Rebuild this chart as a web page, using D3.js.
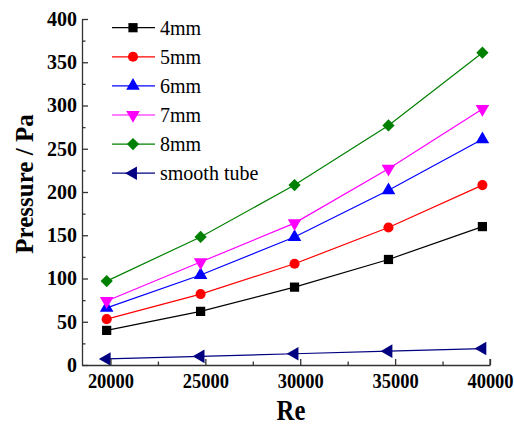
<!DOCTYPE html>
<html>
<head>
<meta charset="UTF-8">
<title>Pressure vs Re</title>
<style>
    body { margin: 0; padding: 0; background: #fff; }
    svg { display: block; }
</style>
</head>
<body>
<svg width="514" height="426"></svg>
<script src="https://d3js.org/d3.v7.min.js"></script>
<script>
    // data
    var reValues = [19800, 24750, 29700, 34650, 39600];
    var names = ["4mm", "5mm", "6mm", "7mm", "8mm", "smooth tube"];
    var p4 = [40, 62, 90, 122, 160];
    var p5 = [53, 82, 117, 159, 208];
    var p6 = [66, 104, 148, 202, 261];
    var p7 = [74, 119, 164, 227, 296];
    var p8 = [97, 148, 208, 277, 361];
    var pSmooth = [7, 10, 13, 16, 19];
    var xTicks = [20000, 25000, 30000, 35000, 40000];
    var yTicks = [0, 50, 100, 150, 200, 250, 300, 350, 400];

    var colors = ["#000000", "#ff0000", "#0000ff", "#ff00ff", "#008000", "#000080"];
    var symbols = ["square", "circle", "up", "down", "diamond", "left"];
    var serif = "'Liberation Serif'";

    var series = [p4, p5, p6, p7, p8, pSmooth].map(function (v, i) {
        return { name: names[i], values: v, color: colors[i], symbol: symbols[i] };
    });

    var svg = d3.select("svg");
    var x = d3.scaleLinear().domain([18500, 40000]).range([82, 490]);
    var y = d3.scaleLinear().domain([0, 400]).range([365, 19]);

    // symbol path + rotation for each marker kind
    var markerDefs = {
        square:  { type: d3.symbolSquare, size: 85, rot: 0 },
        circle:  { type: d3.symbolCircle, size: 80, rot: 0 },
        up:      { type: d3.symbolTriangle, size: 80, rot: 0 },
        down:    { type: d3.symbolTriangle, size: 80, rot: 180 },
        diamond: { type: d3.symbolSquare, size: 75, rot: 45 },
        left:    { type: d3.symbolTriangle, size: 80, rot: -90 }
    };

    function marker(sel, s, px, py) {
        var m = markerDefs[s.symbol];
        sel.attr("d", d3.symbol().type(m.type).size(m.size)())
            .attr("fill", s.color)
            .attr("stroke", "none")
            .attr("transform", function (d, i) {
                return "translate(" + px(d, i) + "," + py(d, i) + ") rotate(" + m.rot + ")";
            });
    }

    // lines + markers
    var line = d3.line()
        .x(function (d, i) { return x(reValues[i]); })
        .y(function (d) { return y(d); });

    var g = svg.append("g");
    series.forEach(function (s) {
        g.append("path")
            .attr("d", line(s.values))
            .attr("fill", "none")
            .attr("stroke", s.color)
            .attr("stroke-width", 1.2);
        g.selectAll(null)
            .data(s.values)
            .enter().append("path")
            .call(marker, s, function (d, i) { return x(reValues[i]); }, function (d) { return y(d); });
    });

    // axes, ticks inward
    var axisColor = "#333";
    var yAxis = svg.append("g").attr("transform", "translate(82,0)")
        .call(d3.axisRight(y).tickValues(d3.range(0, 401, 25)).tickSize(6).tickSizeOuter(0).tickFormat(""));
    yAxis.selectAll(".tick line").attr("x2", function (d) { return d % 50 === 0 ? 6 : 3.5; });
    svg.append("g").attr("transform", "translate(82,0)")
        .call(d3.axisLeft(y).tickValues(yTicks).tickSize(0).tickPadding(5))
        .call(function (a) { a.select(".domain").remove(); })
        .selectAll("text").style("font-family", serif)
        .attr("font-size", 20).attr("font-weight", "bold").attr("fill", "#000");

    var xAxis = svg.append("g").attr("transform", "translate(0,365)")
        .call(d3.axisTop(x).tickValues(d3.range(20000, 40001, 2500)).tickSize(6).tickSizeOuter(0).tickFormat(""));
    xAxis.selectAll(".tick line").attr("y2", function (d) { return d % 5000 === 0 ? -6 : -3.5; });
    svg.append("g").attr("transform", "translate(0,365)")
        .call(d3.axisBottom(x).tickValues(xTicks).tickSize(0).tickPadding(8).tickFormat(d3.format("d")))
        .call(function (a) { a.select(".domain").remove(); })
        .selectAll("text").style("font-family", serif)
        .attr("font-size", 21).attr("font-weight", "bold").attr("fill", "#000")
        .attr("transform", "scale(0.88,1)");

    [yAxis, xAxis].forEach(function (a) {
        a.selectAll(".domain, .tick line").attr("stroke", axisColor).attr("stroke-width", 1.3);
    });
    // closing tick at the right end of the x axis
    svg.append("line").attr("x1", 490).attr("x2", 490).attr("y1", 365).attr("y2", 359)
        .attr("stroke", axisColor).attr("stroke-width", 1.3);

    // axis titles
    svg.append("text")
        .attr("transform", "translate(33,184) rotate(-90)")
        .attr("text-anchor", "middle")
        .style("font-family", serif)
        .attr("font-size", 25).attr("font-weight", "bold")
        .text("Pressure / Pa");
    svg.append("text")
        .attr("x", 291).attr("y", 420)
        .attr("text-anchor", "middle")
        .style("font-family", serif)
        .attr("font-size", 29).attr("font-weight", "bold")
        .attr("transform", "translate(291,0) scale(0.85,1) translate(-291,0)")
        .text("Re");

    // legend
    var legend = svg.append("g");
    series.forEach(function (s, i) {
        var ly = 27.7 + i * 29.1;
        legend.append("line").attr("x1", 112).attr("x2", 155).attr("y1", ly).attr("y2", ly)
            .attr("stroke", s.color).attr("stroke-width", 1.2);
        legend.append("path").datum(0)
            .call(marker, s, function () { return 133; }, function () { return ly; });
        legend.append("text").attr("x", 160).attr("y", ly + 7)
            .style("font-family", serif)
            .attr("font-size", 20).attr("fill", "#000")
            .text(s.name);
    });
</script>
</body>
</html>
